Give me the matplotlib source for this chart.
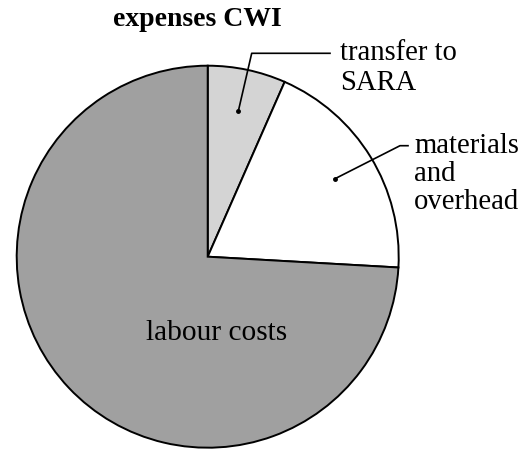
import numpy as np
import matplotlib.pyplot as plt

# shares of the CWI expenses (percent), clockwise from the top
labels = ['transfer to\nSARA', 'materials\nand\noverhead', 'labour costs']
shares = [6.6, 19.3, 74.1]
colors = ['#d4d4d4', '#ffffff', '#a0a0a0']

W, H = 523, 451
fig = plt.figure(figsize=(W / 100, H / 100), dpi=100)
ax = fig.add_axes([0, 0, 1, 1])

cx, cy, R = 207.7, H - 256.7, 191
wedges, _ = ax.pie(shares, colors=colors, startangle=90, counterclock=False,
                   center=(cx, cy), radius=R, frame=True,
                   wedgeprops=dict(edgecolor='black', linewidth=1.4))
ax.set_xlim(0, W)
ax.set_ylim(0, H)
ax.set_aspect('equal')
ax.axis('off')

font = dict(family='Liberation Serif', fontsize=20.6)

ax.text(197, H - 20, 'expenses CWI', ha='center', va='center',
        fontweight='bold', family='Liberation Serif', fontsize=20)


def dot_pos(w, frac=0.78):
    mid = np.deg2rad((w.theta1 + w.theta2) / 2)
    return cx + frac * R * np.cos(mid), cy + frac * R * np.sin(mid)


# transfer to SARA: dot, leader and label
px, py = dot_pos(wedges[0])
ax.plot([px, 251.7, 330], [py, H - 53.3, H - 53.3], color='black', lw=1.2)
ax.plot(px, py, 'o', color='black', ms=2.5)
ax.text(340, H - 68, labels[0], ha='left', va='center', linespacing=1.2, **font)

# materials and overhead
px, py = dot_pos(wedges[1])
ax.plot([px, 400, 408], [py, H - 145.7, H - 145.7], color='black', lw=1.2)
ax.plot(px, py, 'o', color='black', ms=2.5)
ax.text(414, H - 174, labels[1], ha='left', va='center', linespacing=1.08, **font)

# labour costs inside the slice
ax.text(216.7, H - 333.3, labels[2], ha='center', va='center',
        family='Liberation Serif', fontsize=21.2)

fig.savefig('out.png', dpi=100)
